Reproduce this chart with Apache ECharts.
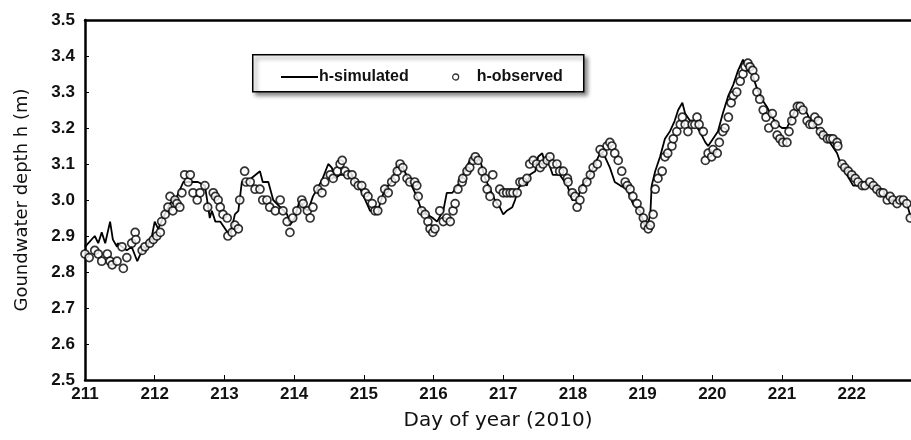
<!DOCTYPE html>
<html>
<head>
<meta charset="utf-8">
<script src="https://cdn.jsdelivr.net/npm/echarts@6/dist/echarts.min.js"></script>
<style>html,body{margin:0;padding:0;background:#fff}#c{width:911px;height:440px}</style>
</head>
<body>
<div id="c"></div>
<script>
// Observed groundwater depth (day of year, h in m)
var obsDay = [211.00,211.06,211.14,211.19,211.24,211.32,211.36,211.39,211.46,211.53,211.55,211.60,211.67,211.72,211.73,211.82,211.86,211.93,211.98,212.03,212.08,212.10,212.15,212.19,212.22,212.26,212.29,212.32,212.36,212.39,212.43,212.48,212.51,212.55,212.61,212.65,212.72,212.76,212.84,212.87,212.91,212.94,212.98,213.04,213.05,213.11,213.15,213.20,213.22,213.29,213.31,213.37,213.44,213.51,213.55,213.61,213.65,213.73,213.80,213.84,213.90,213.94,213.98,214.04,214.11,214.13,214.19,214.23,214.27,214.34,214.40,214.44,214.52,214.56,214.62,214.66,214.69,214.73,214.77,214.83,214.87,214.92,214.97,215.02,215.06,215.12,215.16,215.20,215.26,215.30,215.35,215.40,215.45,215.48,215.52,215.56,215.62,215.66,215.73,215.76,215.78,215.83,215.88,215.92,215.95,215.99,216.02,216.09,216.14,216.19,216.24,216.28,216.31,216.35,216.41,216.42,216.48,216.52,216.57,216.60,216.64,216.70,216.74,216.77,216.81,216.85,216.91,216.95,217.00,217.05,217.10,217.14,217.20,217.24,217.28,217.34,217.38,217.43,217.48,217.53,217.57,217.63,217.67,217.71,217.77,217.81,217.86,217.92,217.93,217.99,218.03,218.06,218.10,218.14,218.20,218.25,218.29,218.35,218.39,218.43,218.49,218.53,218.56,218.60,218.65,218.70,218.75,218.78,218.82,218.86,218.92,218.96,219.01,219.03,219.08,219.11,219.15,219.18,219.22,219.28,219.32,219.36,219.42,219.44,219.49,219.54,219.57,219.61,219.65,219.71,219.75,219.78,219.81,219.87,219.90,219.94,219.99,220.01,220.07,220.10,220.15,220.18,220.23,220.27,220.30,220.35,220.40,220.44,220.47,220.51,220.54,220.58,220.61,220.64,220.68,220.73,220.77,220.81,220.86,220.90,220.93,220.97,221.01,221.07,221.10,221.14,221.17,221.22,221.26,221.30,221.36,221.40,221.44,221.47,221.52,221.55,221.59,221.65,221.69,221.73,221.79,221.80,221.86,221.90,221.95,222.00,222.05,222.09,222.15,222.19,222.26,222.31,222.36,222.41,222.45,222.51,222.55,222.59,222.65,222.69,222.74,222.79,222.84];
var obsH = [2.85,2.84,2.86,2.85,2.83,2.85,2.83,2.82,2.83,2.87,2.81,2.84,2.88,2.91,2.89,2.86,2.87,2.88,2.89,2.90,2.91,2.94,2.96,2.98,3.01,2.97,3.00,2.99,2.98,3.02,3.07,3.05,3.07,3.02,3.00,3.02,3.04,2.98,3.02,3.01,3.00,2.98,2.96,2.95,2.90,2.91,2.93,2.92,3.00,3.08,3.05,3.05,3.03,3.03,3.00,3.00,2.98,2.97,3.00,2.97,2.94,2.91,2.95,2.97,3.00,2.99,2.97,2.95,2.98,3.03,3.02,3.05,3.07,3.06,3.08,3.10,3.11,3.08,3.07,3.07,3.05,3.04,3.04,3.02,3.01,2.99,2.97,2.97,3.00,3.03,3.02,3.05,3.06,3.08,3.10,3.09,3.06,3.05,3.05,3.04,3.01,2.97,2.96,2.94,2.92,2.91,2.92,2.97,2.94,2.95,2.94,2.97,2.99,3.03,3.05,3.06,3.08,3.09,3.11,3.12,3.11,3.08,3.06,3.03,3.01,3.07,2.99,3.03,3.02,3.02,3.02,3.02,3.02,3.05,3.05,3.06,3.10,3.11,3.10,3.09,3.10,3.11,3.12,3.10,3.10,3.08,3.08,3.06,3.05,3.02,3.01,2.98,3.00,3.03,3.05,3.07,3.09,3.10,3.14,3.13,3.15,3.16,3.15,3.13,3.11,3.08,3.05,3.04,3.03,3.01,2.99,2.97,2.95,2.93,2.92,2.93,2.96,3.03,3.06,3.08,3.12,3.13,3.15,3.17,3.19,3.21,3.23,3.21,3.19,3.21,3.21,3.23,3.21,3.19,3.11,3.13,3.12,3.14,3.13,3.16,3.19,3.20,3.23,3.27,3.29,3.30,3.33,3.35,3.37,3.38,3.37,3.36,3.34,3.30,3.28,3.25,3.23,3.20,3.24,3.21,3.18,3.17,3.16,3.16,3.19,3.22,3.24,3.26,3.26,3.25,3.22,3.21,3.21,3.23,3.22,3.19,3.18,3.17,3.17,3.17,3.16,3.15,3.10,3.09,3.08,3.07,3.06,3.05,3.04,3.04,3.05,3.04,3.03,3.02,3.02,3.00,3.01,3.00,2.99,3.00,3.00,2.99,2.95];

// Simulated groundwater depth (day of year, h in m)
var simDay = [211.00,211.14,211.19,211.24,211.29,211.36,211.40,211.46,211.47,211.53,211.60,211.67,211.75,211.82,211.89,211.96,212.00,212.05,212.12,212.22,212.32,212.41,212.51,212.62,212.72,212.76,212.79,212.82,212.87,212.94,213.01,213.08,213.15,213.20,213.25,213.32,213.51,213.55,213.63,213.70,213.80,213.90,213.94,214.01,214.08,214.13,214.20,214.27,214.33,214.41,214.49,214.54,214.59,214.66,214.73,214.83,214.90,214.95,215.02,215.09,215.16,215.20,215.30,215.40,215.49,215.56,215.66,215.76,215.83,215.91,215.99,216.05,216.14,216.19,216.27,216.31,216.38,216.45,216.52,216.60,216.67,216.74,216.81,216.88,216.95,217.00,217.05,217.13,217.17,217.21,217.28,217.34,217.38,217.46,217.50,217.56,217.60,217.64,217.71,217.81,217.92,217.99,218.06,218.13,218.22,218.29,218.39,218.46,218.53,218.60,218.68,218.78,218.86,218.96,219.03,219.06,219.11,219.13,219.18,219.25,219.32,219.39,219.46,219.51,219.57,219.61,219.68,219.75,219.82,219.90,219.94,220.01,220.08,220.15,220.23,220.30,220.37,220.44,220.50,220.57,220.64,220.71,220.78,220.86,220.93,221.00,221.07,221.14,221.22,221.29,221.36,221.43,221.50,221.57,221.65,221.72,221.79,221.86,221.93,222.02,222.12,222.22,222.31,222.41,222.51,222.59,222.69,222.79,222.85];
var simH = [2.87,2.90,2.88,2.91,2.88,2.94,2.89,2.87,2.88,2.87,2.86,2.87,2.83,2.86,2.87,2.90,2.94,2.92,2.95,2.99,3.01,3.05,3.05,3.05,3.04,2.99,2.95,2.97,2.94,2.94,2.92,2.90,2.96,2.97,3.05,3.05,3.08,3.05,3.05,3.00,2.98,2.96,2.93,2.95,3.00,2.98,2.97,3.01,3.03,3.06,3.10,3.09,3.06,3.07,3.07,3.07,3.04,3.03,3.00,2.97,2.97,2.97,3.03,3.05,3.10,3.09,3.05,3.01,2.97,2.96,2.95,2.94,2.97,3.02,3.02,3.03,3.05,3.08,3.11,3.12,3.11,3.06,3.03,3.00,2.98,2.96,2.97,2.98,3.00,3.03,3.05,3.04,3.07,3.08,3.12,3.13,3.10,3.11,3.07,3.07,3.04,3.00,3.00,3.04,3.06,3.09,3.13,3.12,3.09,3.05,3.04,3.03,2.99,2.97,2.93,2.92,2.96,3.04,3.08,3.12,3.17,3.19,3.22,3.25,3.27,3.24,3.22,3.21,3.19,3.16,3.15,3.17,3.19,3.24,3.29,3.32,3.36,3.39,3.36,3.35,3.31,3.28,3.26,3.23,3.21,3.20,3.20,3.23,3.26,3.26,3.24,3.21,3.20,3.19,3.17,3.15,3.13,3.09,3.07,3.04,3.04,3.04,3.04,3.03,3.01,3.00,3.00,2.99,2.95];

var xTicks = {min: 211, max: 222.85, interval: 1};
var yTicks = {min: 2.5, max: 3.5, interval: 0.1};
var xTitle = 'Day of year (2010)';
var yTitle = 'Goundwater depth h (m)';
var simName = 'h-simulated';
var obsName = 'h-observed';

function pairs(xs, ys) { return xs.map(function (x, i) { return [x, ys[i]]; }); }

var FONT = "'Liberation Sans', Arial, sans-serif";
var TFONT = "'DejaVu Sans', sans-serif";
var chart = echarts.init(document.getElementById('c'), null, {renderer: 'canvas'});
chart.setOption({
  animation: false,
  backgroundColor: '#fff',
  grid: {left: 85, right: 0, top: 20, bottom: 60, containLabel: false},
  xAxis: [{
    type: 'value', min: xTicks.min, max: xTicks.max, interval: xTicks.interval,
    name: xTitle, nameLocation: 'middle', nameGap: 31,
    nameTextStyle: {fontFamily: TFONT, fontSize: 20, color: '#111'},
    axisLine: {show: true, lineStyle: {color: '#000', width: 2.5}},
    axisTick: {show: true, inside: true, length: 5, lineStyle: {color: '#000', width: 1}},
    axisLabel: {show: true, margin: 6, fontFamily: FONT, fontWeight: 'bold', fontSize: 17, color: '#111',
      showMaxLabel: false,
      formatter: function (v) { return Math.abs(v - Math.round(v)) < 1e-6 ? String(Math.round(v)) : ''; }},
    splitLine: {show: false}
  }, {
    type: 'value', position: 'top', min: xTicks.min, max: xTicks.max,
    axisLine: {show: true, onZero: false, lineStyle: {color: '#000', width: 2.5}},
    axisTick: {show: false}, axisLabel: {show: false}, splitLine: {show: false}
  }],
  yAxis: {
    type: 'value', min: yTicks.min, max: yTicks.max, interval: yTicks.interval,
    name: yTitle, nameLocation: 'middle', nameGap: 54,
    nameTextStyle: {fontFamily: TFONT, fontSize: 18, color: '#111'},
    axisLine: {show: true, lineStyle: {color: '#000', width: 2.5}},
    axisTick: {show: true, inside: true, length: 4, lineStyle: {color: '#000', width: 1}},
    axisLabel: {margin: 10, fontFamily: FONT, fontWeight: 'bold', fontSize: 17, color: '#111',
      formatter: function (v) { return v.toFixed(1); }},
    splitLine: {show: false}
  },
  graphic: [{
    type: 'rect', left: 252, top: 54, z: 5,
    shape: {width: 331, height: 37},
    style: {fill: '#fff', stroke: '#000', lineWidth: 1.5,
      shadowBlur: 4, shadowOffsetX: 3, shadowOffsetY: 3, shadowColor: 'rgba(0,0,0,0.45)'}
  }],
  legend: [{
    data: [{name: simName, icon: 'rect', itemStyle: {color: '#000'}}], left: 276, top: 64, z: 10,
    itemWidth: 37, itemHeight: 2, itemGap: 0,
    textStyle: {fontFamily: FONT, fontWeight: 'bold', fontSize: 16, color: '#111', padding: [0, 0, 0, -4]}
  }, {
    data: [{name: obsName, icon: 'circle', itemStyle: {color: '#fff', borderColor: '#000', borderWidth: 1.3}}],
    left: 447, top: 64, z: 10,
    itemWidth: 6, itemHeight: 6, itemGap: 0,
    textStyle: {fontFamily: FONT, fontWeight: 'bold', fontSize: 16, color: '#111', padding: [0, 0, 0, 13]}
  }],
  series: [{
    name: simName, type: 'line', xAxisIndex: 0,
    data: pairs(simDay, simH),
    symbol: 'none', showSymbol: false,
    lineStyle: {color: '#000', width: 1.8},
    itemStyle: {color: '#000'},
    z: 3
  }, {
    name: obsName, type: 'scatter', xAxisIndex: 0,
    data: pairs(obsDay, obsH),
    symbol: 'circle', symbolSize: 8,
    itemStyle: {color: '#fff', borderColor: '#000', borderWidth: 1.7},
    z: 4
  }]
});
</script>
</body>
</html>
